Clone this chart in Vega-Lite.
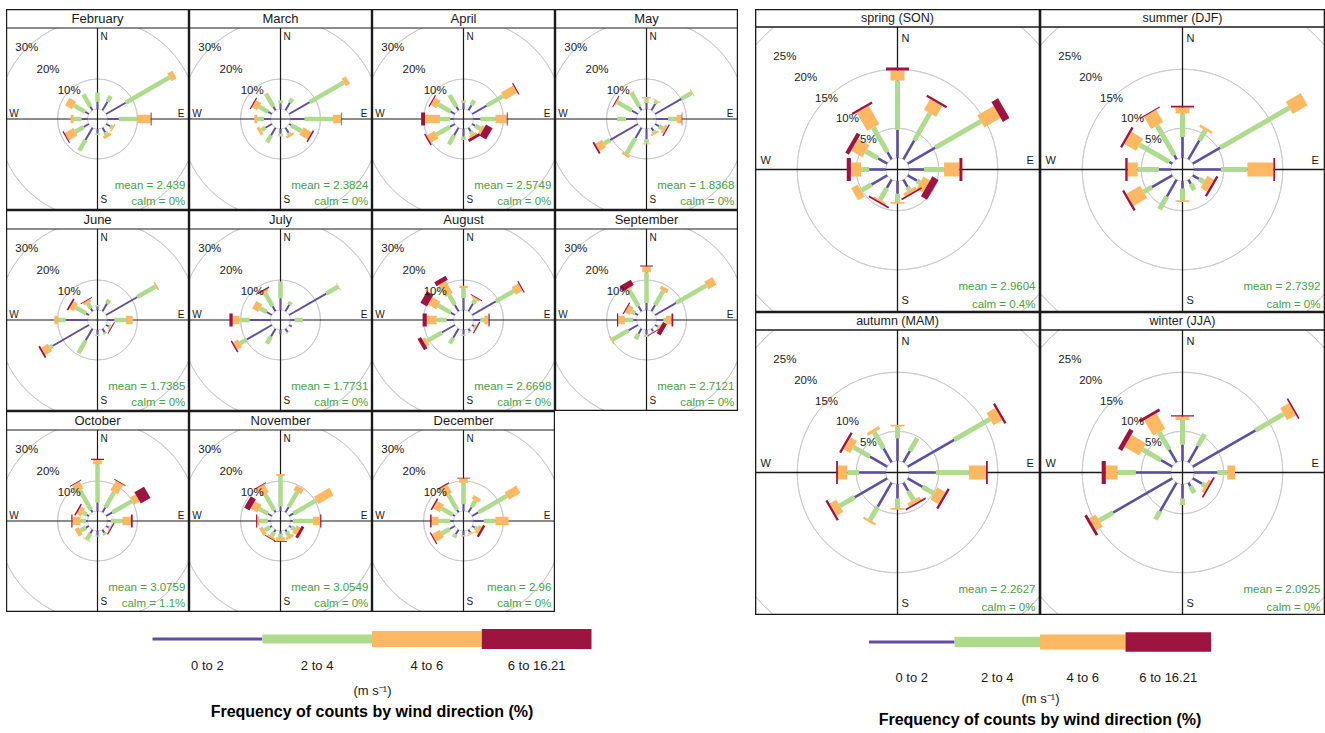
{
"$schema": "https://vega.github.io/schema/vega-lite/v6.json",
"padding": {"left": 5, "top": 8, "right": 0, "bottom": 0},
"background": "white",
"config": {"view": {"stroke": null}, "font": "Liberation Sans", "header": {"labels": false, "title": null, "labelExpr": "''", "labelFontSize": 0, "labelPadding": 0, "labelColor": "transparent", "titleFontSize": 0, "titlePadding": 0}},
"spacing": 17,
"datasets": {
"legend": [{"bin": "0 to 2"}, {"bin": "2 to 4"}, {"bin": "4 to 6"}, {"bin": "6 to 16.21"}],
"monthly": [
{"p":"February","mean":"mean = 2.439","calm":"calm = 0%"},
{"p":"March","mean":"mean = 2.3824","calm":"calm = 0%"},
{"p":"April","mean":"mean = 2.5749","calm":"calm = 0%"},
{"p":"May","mean":"mean = 1.8368","calm":"calm = 0%"},
{"p":"June","mean":"mean = 1.7385","calm":"calm = 0%"},
{"p":"July","mean":"mean = 1.7731","calm":"calm = 0%"},
{"p":"August","mean":"mean = 2.6698","calm":"calm = 0%"},
{"p":"September","mean":"mean = 2.7121","calm":"calm = 0%"},
{"p":"October","mean":"mean = 3.0759","calm":"calm = 1.1%"},
{"p":"November","mean":"mean = 3.0549","calm":"calm = 0%"},
{"p":"December","mean":"mean = 2.96","calm":"calm = 0%"},
{"p":"February","ring":10,"lab":"10%"},{"p":"February","ring":20,"lab":"20%"},{"p":"February","ring":30,"lab":"30%"},{"p":"February","ring":40},
{"p":"March","ring":10,"lab":"10%"},{"p":"March","ring":20,"lab":"20%"},{"p":"March","ring":30,"lab":"30%"},{"p":"March","ring":40},
{"p":"April","ring":10,"lab":"10%"},{"p":"April","ring":20,"lab":"20%"},{"p":"April","ring":30,"lab":"30%"},{"p":"April","ring":40},
{"p":"May","ring":10,"lab":"10%"},{"p":"May","ring":20,"lab":"20%"},{"p":"May","ring":30,"lab":"30%"},{"p":"May","ring":40},
{"p":"June","ring":10,"lab":"10%"},{"p":"June","ring":20,"lab":"20%"},{"p":"June","ring":30,"lab":"30%"},{"p":"June","ring":40},
{"p":"July","ring":10,"lab":"10%"},{"p":"July","ring":20,"lab":"20%"},{"p":"July","ring":30,"lab":"30%"},{"p":"July","ring":40},
{"p":"August","ring":10,"lab":"10%"},{"p":"August","ring":20,"lab":"20%"},{"p":"August","ring":30,"lab":"30%"},{"p":"August","ring":40},
{"p":"September","ring":10,"lab":"10%"},{"p":"September","ring":20,"lab":"20%"},{"p":"September","ring":30,"lab":"30%"},{"p":"September","ring":40},
{"p":"October","ring":10,"lab":"10%"},{"p":"October","ring":20,"lab":"20%"},{"p":"October","ring":30,"lab":"30%"},{"p":"October","ring":40},
{"p":"November","ring":10,"lab":"10%"},{"p":"November","ring":20,"lab":"20%"},{"p":"November","ring":30,"lab":"30%"},{"p":"November","ring":40},
{"p":"December","ring":10,"lab":"10%"},{"p":"December","ring":20,"lab":"20%"},{"p":"December","ring":30,"lab":"30%"},{"p":"December","ring":40},
{"p":"February","d":0,"b1":2.4,"b2":3.1,"b3":0,"b4":0},
{"p":"February","d":30,"b1":3.4,"b2":2.1,"b3":0,"b4":0},
{"p":"February","d":60,"b1":7.5,"b2":16.8,"b3":2.0,"b4":0},
{"p":"February","d":90,"b1":3.8,"b2":6.1,"b3":4.5,"b4":0.3},
{"p":"February","d":120,"b1":1.5,"b2":0.8,"b3":0.5,"b4":0},
{"p":"February","d":150,"b1":1.8,"b2":0.8,"b3":1.0,"b4":0},
{"p":"February","d":180,"b1":1.5,"b2":0.5,"b3":0,"b4":0},
{"p":"February","d":210,"b1":4.8,"b2":4.0,"b3":0,"b4":0},
{"p":"February","d":240,"b1":2.0,"b2":3.2,"b3":3.3,"b4":0.4},
{"p":"February","d":270,"b1":2.0,"b2":2.6,"b3":1.0,"b4":0},
{"p":"February","d":300,"b1":1.4,"b2":4.3,"b3":2.6,"b4":0},
{"p":"February","d":330,"b1":1.5,"b2":4.6,"b3":0,"b4":0},
{"p":"March","d":0,"b1":1.8,"b2":1.1,"b3":0,"b4":0},
{"p":"March","d":30,"b1":3.0,"b2":1.5,"b3":0,"b4":0},
{"p":"March","d":60,"b1":7.9,"b2":13.1,"b3":1.6,"b4":0},
{"p":"March","d":90,"b1":4.7,"b2":9.4,"b3":2.8,"b4":0.2},
{"p":"March","d":120,"b1":0.8,"b2":3.9,"b3":3.2,"b4":0.5},
{"p":"March","d":150,"b1":2.0,"b2":0.6,"b3":0.8,"b4":0},
{"p":"March","d":180,"b1":1.5,"b2":1.0,"b3":0,"b4":0},
{"p":"March","d":210,"b1":3.0,"b2":2.7,"b3":0,"b4":0},
{"p":"March","d":240,"b1":2.5,"b2":1.6,"b3":1.0,"b4":0},
{"p":"March","d":270,"b1":2.2,"b2":2.2,"b3":1.0,"b4":0},
{"p":"March","d":300,"b1":1.4,"b2":3.5,"b3":2.0,"b4":0.4},
{"p":"March","d":330,"b1":1.5,"b2":4.9,"b3":0,"b4":0},
{"p":"April","d":0,"b1":2.0,"b2":0.8,"b3":0,"b4":0},
{"p":"April","d":30,"b1":2.0,"b2":1.8,"b3":0,"b4":0},
{"p":"April","d":60,"b1":5.6,"b2":6.3,"b3":4.7,"b4":0.4},
{"p":"April","d":90,"b1":2.3,"b2":5.0,"b3":3.8,"b4":0.3},
{"p":"April","d":120,"b1":1.2,"b2":2.0,"b3":0.9,"b4":2.5},
{"p":"April","d":150,"b1":1.5,"b2":1.0,"b3":0.8,"b4":1.0},
{"p":"April","d":180,"b1":2.5,"b2":1.2,"b3":0,"b4":0},
{"p":"April","d":210,"b1":3.0,"b2":3.4,"b3":0,"b4":0},
{"p":"April","d":240,"b1":1.9,"b2":5.1,"b3":3.1,"b4":0.5},
{"p":"April","d":270,"b1":1.1,"b2":3.4,"b3":5.0,"b4":1.3},
{"p":"April","d":300,"b1":1.7,"b2":4.6,"b3":2.2,"b4":0.4},
{"p":"April","d":330,"b1":1.5,"b2":4.4,"b3":0,"b4":0},
{"p":"May","d":0,"b1":2.0,"b2":1.5,"b3":0.5,"b4":0},
{"p":"May","d":30,"b1":2.5,"b2":1.0,"b3":0.3,"b4":0},
{"p":"May","d":60,"b1":10.1,"b2":4.0,"b3":0.3,"b4":0},
{"p":"May","d":90,"b1":3.9,"b2":2.8,"b3":1.7,"b4":0.2},
{"p":"May","d":120,"b1":1.5,"b2":1.5,"b3":1.0,"b4":0.4},
{"p":"May","d":150,"b1":1.2,"b2":0.6,"b3":0.7,"b4":0},
{"p":"May","d":180,"b1":3.3,"b2":1.5,"b3":0.3,"b4":0},
{"p":"May","d":210,"b1":4.0,"b2":6.0,"b3":0.9,"b4":0},
{"p":"May","d":240,"b1":10.7,"b2":2.3,"b3":2.6,"b4":0.6},
{"p":"May","d":270,"b1":3.5,"b2":3.0,"b3":0,"b4":0},
{"p":"May","d":300,"b1":2.3,"b2":5.6,"b3":0.4,"b4":0.3},
{"p":"May","d":330,"b1":1.5,"b2":5.2,"b3":0.2,"b4":0},
{"p":"June","d":0,"b1":1.2,"b2":0.5,"b3":0,"b4":0},
{"p":"June","d":30,"b1":3.0,"b2":1.4,"b3":0,"b4":0},
{"p":"June","d":60,"b1":12.0,"b2":7.0,"b3":0.6,"b4":0},
{"p":"June","d":90,"b1":2.3,"b2":3.8,"b3":2.3,"b4":0},
{"p":"June","d":120,"b1":1.0,"b2":0.6,"b3":0.2,"b4":0.3},
{"p":"June","d":150,"b1":1.5,"b2":0.5,"b3":0,"b4":0},
{"p":"June","d":180,"b1":1.5,"b2":0.5,"b3":0,"b4":0},
{"p":"June","d":210,"b1":4.6,"b2":4.8,"b3":0,"b4":0},
{"p":"June","d":240,"b1":14.0,"b2":1.0,"b3":2.6,"b4":0.6},
{"p":"June","d":270,"b1":7.3,"b2":2.5,"b3":1.3,"b4":0},
{"p":"June","d":300,"b1":1.1,"b2":3.9,"b3":1.7,"b4":0.6},
{"p":"June","d":330,"b1":1.1,"b2":2.0,"b3":0.9,"b4":0.3},
{"p":"July","d":0,"b1":3.9,"b2":5.6,"b3":0,"b4":0},
{"p":"July","d":30,"b1":2.5,"b2":1.1,"b3":0,"b4":0},
{"p":"July","d":60,"b1":14.3,"b2":4.5,"b3":0.3,"b4":0},
{"p":"July","d":90,"b1":1.4,"b2":2.7,"b3":0,"b4":0},
{"p":"July","d":120,"b1":1.0,"b2":0,"b3":0,"b4":0},
{"p":"July","d":150,"b1":1.3,"b2":0.3,"b3":0,"b4":0},
{"p":"July","d":180,"b1":1.5,"b2":0,"b3":0,"b4":0},
{"p":"July","d":210,"b1":3.0,"b2":2.8,"b3":0,"b4":0},
{"p":"July","d":240,"b1":9.7,"b2":2.5,"b3":1.9,"b4":0.5},
{"p":"July","d":270,"b1":7.0,"b2":3.4,"b3":2.2,"b4":1.1},
{"p":"July","d":300,"b1":2.0,"b2":2.5,"b3":2.3,"b4":0},
{"p":"July","d":330,"b1":2.0,"b2":5.0,"b3":0.8,"b4":0.5},
{"p":"August","d":0,"b1":4.0,"b2":3.3,"b3":0.8,"b4":0},
{"p":"August","d":30,"b1":3.0,"b2":1.5,"b3":0.6,"b4":0.3},
{"p":"August","d":60,"b1":9.1,"b2":6.9,"b3":2.6,"b4":0.4},
{"p":"August","d":90,"b1":2.3,"b2":1.3,"b3":1.4,"b4":0.4},
{"p":"August","d":120,"b1":0.8,"b2":0.5,"b3":0.2,"b4":0.4},
{"p":"August","d":150,"b1":1.0,"b2":0.3,"b3":0,"b4":0},
{"p":"August","d":180,"b1":1.5,"b2":0.5,"b3":0,"b4":0},
{"p":"August","d":210,"b1":3.5,"b2":2.2,"b3":0,"b4":0},
{"p":"August","d":240,"b1":5.0,"b2":5.6,"b3":1.2,"b4":1.3},
{"p":"August","d":270,"b1":2.3,"b2":3.3,"b3":3.3,"b4":1.4},
{"p":"August","d":300,"b1":1.6,"b2":4.7,"b3":3.2,"b4":2.5},
{"p":"August","d":330,"b1":2.4,"b2":3.9,"b3":4.6,"b4":1.5},
{"p":"September","d":0,"b1":2.3,"b2":10.3,"b3":1.9,"b4":0.3},
{"p":"September","d":30,"b1":2.4,"b2":5.4,"b3":1.3,"b4":0},
{"p":"September","d":60,"b1":8.1,"b2":11.6,"b3":3.1,"b4":0},
{"p":"September","d":90,"b1":2.3,"b2":0.8,"b3":1.9,"b4":0.6},
{"p":"September","d":120,"b1":1.0,"b2":0.5,"b3":0.3,"b4":1.5},
{"p":"September","d":150,"b1":1.0,"b2":0.3,"b3":0,"b4":0.3},
{"p":"September","d":180,"b1":1.5,"b2":0.8,"b3":0,"b4":0},
{"p":"September","d":210,"b1":2.0,"b2":2.0,"b3":0,"b4":0},
{"p":"September","d":240,"b1":3.6,"b2":6.3,"b3":0.4,"b4":0},
{"p":"September","d":270,"b1":1.1,"b2":2.8,"b3":2.2,"b4":0.4},
{"p":"September","d":300,"b1":1.1,"b2":1.3,"b3":1.8,"b4":0.4},
{"p":"September","d":330,"b1":2.0,"b2":6.4,"b3":0.5,"b4":2.0},
{"p":"October","d":0,"b1":2.8,"b2":12.8,"b3":1.4,"b4":0.4},
{"p":"October","d":30,"b1":1.9,"b2":5.8,"b3":3.7,"b4":0.3},
{"p":"October","d":60,"b1":2.4,"b2":7.7,"b3":2.0,"b4":3.7},
{"p":"October","d":90,"b1":1.1,"b2":3.9,"b3":2.8,"b4":0.6},
{"p":"October","d":120,"b1":1.0,"b2":0.3,"b3":0.3,"b4":0.4},
{"p":"October","d":150,"b1":1.2,"b2":0.8,"b3":0,"b4":0},
{"p":"October","d":180,"b1":1.5,"b2":0.3,"b3":0,"b4":0},
{"p":"October","d":210,"b1":1.5,"b2":2.2,"b3":0.3,"b4":0},
{"p":"October","d":240,"b1":1.2,"b2":2.0,"b3":1.5,"b4":0},
{"p":"October","d":270,"b1":0.5,"b2":1.8,"b3":2.7,"b4":0.4},
{"p":"October","d":300,"b1":0.8,"b2":1.5,"b3":1.6,"b4":0.5},
{"p":"October","d":330,"b1":1.0,"b2":7.4,"b3":2.7,"b4":0.3},
{"p":"November","d":0,"b1":1.5,"b2":10.2,"b3":0.6,"b4":0},
{"p":"November","d":30,"b1":2.1,"b2":5.7,"b3":1.9,"b4":0},
{"p":"November","d":60,"b1":1.7,"b2":8.7,"b3":5.9,"b4":0},
{"p":"November","d":90,"b1":0.8,"b2":6.7,"b3":2.4,"b4":0.4},
{"p":"November","d":120,"b1":0.8,"b2":1.3,"b3":1.5,"b4":1.0},
{"p":"November","d":150,"b1":0.8,"b2":1.5,"b3":1.0,"b4":0},
{"p":"November","d":180,"b1":0.9,"b2":1.2,"b3":1.2,"b4":0.3},
{"p":"November","d":210,"b1":1.0,"b2":1.5,"b3":0.7,"b4":0.3},
{"p":"November","d":240,"b1":0.8,"b2":2.0,"b3":1.3,"b4":0},
{"p":"November","d":270,"b1":0.9,"b2":2.8,"b3":0.7,"b4":0.4},
{"p":"November","d":300,"b1":1.5,"b2":3.3,"b3":2.6,"b4":2.0},
{"p":"November","d":330,"b1":0.8,"b2":6.2,"b3":3.0,"b4":0.3},
{"p":"December","d":0,"b1":2.3,"b2":7.0,"b3":1.5,"b4":0.3},
{"p":"December","d":30,"b1":2.0,"b2":2.5,"b3":1.4,"b4":0},
{"p":"December","d":60,"b1":2.4,"b2":10.9,"b3":4.5,"b4":0},
{"p":"December","d":90,"b1":3.4,"b2":3.9,"b3":4.4,"b4":0},
{"p":"December","d":120,"b1":1.0,"b2":0.8,"b3":1.2,"b4":0.8},
{"p":"December","d":150,"b1":1.0,"b2":0.5,"b3":0.3,"b4":0},
{"p":"December","d":180,"b1":1.3,"b2":0.5,"b3":0,"b4":0},
{"p":"December","d":210,"b1":1.8,"b2":1.2,"b3":0,"b4":0},
{"p":"December","d":240,"b1":2.0,"b2":3.0,"b3":3.0,"b4":0.4},
{"p":"December","d":270,"b1":1.1,"b2":3.9,"b3":2.3,"b4":0.5},
{"p":"December","d":300,"b1":0.8,"b2":4.2,"b3":2.6,"b4":0.5},
{"p":"December","d":330,"b1":1.0,"b2":5.8,"b3":3.1,"b4":0.4}
],
"seasonal": [
{"p":"spring (SON)","mean":"mean = 2.9604","calm":"calm = 0.4%"},
{"p":"summer (DJF)","mean":"mean = 2.7392","calm":"calm = 0%"},
{"p":"autumn (MAM)","mean":"mean = 2.2627","calm":"calm = 0%"},
{"p":"winter (JJA)","mean":"mean = 2.0925","calm":"calm = 0%"},
{"p":"spring (SON)","ring":5,"lab":"5%"},{"p":"spring (SON)","ring":10,"lab":"10%"},{"p":"spring (SON)","ring":15,"lab":"15%"},{"p":"spring (SON)","ring":20,"lab":"20%"},{"p":"spring (SON)","ring":25,"lab":"25%"},{"p":"spring (SON)","ring":30},{"p":"spring (SON)","ring":35},
{"p":"summer (DJF)","ring":5,"lab":"5%"},{"p":"summer (DJF)","ring":10,"lab":"10%"},{"p":"summer (DJF)","ring":15,"lab":"15%"},{"p":"summer (DJF)","ring":20,"lab":"20%"},{"p":"summer (DJF)","ring":25,"lab":"25%"},{"p":"summer (DJF)","ring":30},{"p":"summer (DJF)","ring":35},
{"p":"autumn (MAM)","ring":5,"lab":"5%"},{"p":"autumn (MAM)","ring":10,"lab":"10%"},{"p":"autumn (MAM)","ring":15,"lab":"15%"},{"p":"autumn (MAM)","ring":20,"lab":"20%"},{"p":"autumn (MAM)","ring":25,"lab":"25%"},{"p":"autumn (MAM)","ring":30},{"p":"autumn (MAM)","ring":35},
{"p":"winter (JJA)","ring":5,"lab":"5%"},{"p":"winter (JJA)","ring":10,"lab":"10%"},{"p":"winter (JJA)","ring":15,"lab":"15%"},{"p":"winter (JJA)","ring":20,"lab":"20%"},{"p":"winter (JJA)","ring":25,"lab":"25%"},{"p":"winter (JJA)","ring":30},{"p":"winter (JJA)","ring":35},
{"p":"spring (SON)","d":0,"b1":4.7,"b2":8.4,"b3":1.7,"b4":0.5},
{"p":"spring (SON)","d":30,"b1":3.7,"b2":5.3,"b3":2.1,"b4":0.4},
{"p":"spring (SON)","d":60,"b1":5.4,"b2":8.9,"b3":3.2,"b4":1.3},
{"p":"spring (SON)","d":90,"b1":2.5,"b2":3.4,"b3":2.6,"b4":0.5},
{"p":"spring (SON)","d":120,"b1":1.8,"b2":0.6,"b3":1.3,"b4":1.2},
{"p":"spring (SON)","d":150,"b1":1.4,"b2":0.6,"b3":0.6,"b4":0.3},
{"p":"spring (SON)","d":180,"b1":2.1,"b2":1.4,"b3":0.3,"b4":0},
{"p":"spring (SON)","d":210,"b1":1.6,"b2":2.3,"b3":0.3,"b4":0.3},
{"p":"spring (SON)","d":240,"b1":3.1,"b2":2.0,"b3":1.3,"b4":0},
{"p":"spring (SON)","d":270,"b1":2.8,"b2":1.4,"b3":1.7,"b4":0.7},
{"p":"spring (SON)","d":300,"b1":1.8,"b2":2.4,"b3":2.2,"b4":0.7},
{"p":"spring (SON)","d":330,"b1":1.4,"b2":4.8,"b3":3.6,"b4":0.4},
{"p":"summer (DJF)","d":0,"b1":3.5,"b2":4.0,"b3":1.0,"b4":0.3},
{"p":"summer (DJF)","d":30,"b1":3.7,"b2":2.0,"b3":0.4,"b4":0},
{"p":"summer (DJF)","d":60,"b1":5.4,"b2":13.5,"b3":2.9,"b4":0},
{"p":"summer (DJF)","d":90,"b1":4.5,"b2":4.5,"b3":4.4,"b4":0.3},
{"p":"summer (DJF)","d":120,"b1":1.2,"b2":1.0,"b3":1.3,"b4":0.4},
{"p":"summer (DJF)","d":150,"b1":0.8,"b2":1.2,"b3":0,"b4":0},
{"p":"summer (DJF)","d":180,"b1":1.2,"b2":2.0,"b3":0.3,"b4":0},
{"p":"summer (DJF)","d":210,"b1":3.3,"b2":2.5,"b3":0,"b4":0},
{"p":"summer (DJF)","d":240,"b1":4.0,"b2":1.6,"b3":2.7,"b4":0.4},
{"p":"summer (DJF)","d":270,"b1":2.0,"b2":3.6,"b3":1.7,"b4":0.4},
{"p":"summer (DJF)","d":300,"b1":0.6,"b2":5.8,"b3":2.3,"b4":0.4},
{"p":"summer (DJF)","d":330,"b1":0.8,"b2":5.8,"b3":2.4,"b4":0.2},
{"p":"autumn (MAM)","d":0,"b1":3.8,"b2":2.0,"b3":0.3,"b4":0},
{"p":"autumn (MAM)","d":30,"b1":2.2,"b2":2.5,"b3":0,"b4":0},
{"p":"autumn (MAM)","d":60,"b1":9.1,"b2":7.0,"b3":1.7,"b4":0.4},
{"p":"autumn (MAM)","d":90,"b1":4.5,"b2":5.6,"b3":2.9,"b4":0.3},
{"p":"autumn (MAM)","d":120,"b1":2.9,"b2":2.2,"b3":1.6,"b4":0.4},
{"p":"autumn (MAM)","d":150,"b1":1.6,"b2":1.8,"b3":0.6,"b4":0.3},
{"p":"autumn (MAM)","d":180,"b1":2.4,"b2":1.6,"b3":0.3,"b4":0},
{"p":"autumn (MAM)","d":210,"b1":4.7,"b2":2.6,"b3":0.4,"b4":0},
{"p":"autumn (MAM)","d":240,"b1":6.4,"b2":2.9,"b3":1.3,"b4":0.4},
{"p":"autumn (MAM)","d":270,"b1":4.5,"b2":2.0,"b3":1.6,"b4":0.3},
{"p":"autumn (MAM)","d":300,"b1":3.4,"b2":3.2,"b3":1.3,"b4":0.4},
{"p":"autumn (MAM)","d":330,"b1":2.7,"b2":3.2,"b3":0.5,"b4":0},
{"p":"winter (JJA)","d":0,"b1":2.7,"b2":4.2,"b3":0.6,"b4":0.2},
{"p":"winter (JJA)","d":30,"b1":3.2,"b2":2.3,"b3":0,"b4":0},
{"p":"winter (JJA)","d":60,"b1":12.3,"b2":5.5,"b3":1.7,"b4":0.3},
{"p":"winter (JJA)","d":90,"b1":3.9,"b2":1.7,"b3":1.3,"b4":0},
{"p":"winter (JJA)","d":120,"b1":1.8,"b2":0.6,"b3":0.5,"b4":0.3},
{"p":"winter (JJA)","d":150,"b1":0.7,"b2":1.3,"b3":0,"b4":0},
{"p":"winter (JJA)","d":180,"b1":2.4,"b2":1.1,"b3":0,"b4":0},
{"p":"winter (JJA)","d":210,"b1":5.6,"b2":1.6,"b3":0,"b4":0},
{"p":"winter (JJA)","d":240,"b1":11.6,"b2":2.7,"b3":1.3,"b4":0.5},
{"p":"winter (JJA)","d":270,"b1":5.9,"b2":3.1,"b3":2.0,"b4":0.7},
{"p":"winter (JJA)","d":300,"b1":2.2,"b2":3.6,"b3":2.9,"b4":0.8},
{"p":"winter (JJA)","d":330,"b1":2.5,"b2":3.4,"b3":3.0,"b4":0.5}
]
},
"hconcat": [
{
"vconcat": [
{
"data": {"name": "monthly"},
"facet": {"field": "p", "type": "nominal", "title": null, "header": {"labels": false, "title": null, "labelExpr": "''", "labelFontSize": 0, "labelPadding": 0}, "sort": ["February","March","April","May","June","July","August","September","October","November","December"]},
"columns": 4,
"spacing": -1,
"spec": {
"width": 183, "height": 201,
"layer": [
{"transform": [{"filter": "isValid(datum.ring)"}],
 "mark": {"type": "arc", "fill": "transparent", "stroke": "#c9c9c9", "strokeWidth": 0.9, "theta": 0, "theta2": 6.2832, "clip": true},
 "encoding": {
  "x": {"datum": 0, "scale": {"domain": [-91.5, 91.5], "nice": false, "zero": false}, "axis": null},
  "y": {"datum": 0, "scale": {"domain": [-91, 110], "nice": false, "zero": false}, "axis": null},
  "radius": {"field": "ring", "type": "quantitative", "scale": {"type": "linear", "domain": [-3.333, 30], "range": [0, 100], "zero": false, "nice": false}}
 }},
{"transform": [{"filter": "isValid(datum.mean)"}], "mark": {"type": "rule", "color": "#1a1a1a", "strokeWidth": 1.2},
 "encoding": {"x": {"datum": 0}, "y": {"datum": -90.4}, "y2": {"datum": 91}}},
{"transform": [{"filter": "isValid(datum.mean)"}], "mark": {"type": "rule", "color": "#1a1a1a", "strokeWidth": 1.2},
 "encoding": {"x": {"datum": -90.9}, "x2": {"datum": 90.9}, "y": {"datum": 0}}},
{"transform": [{"filter": "isValid(datum.d)"}, {"fold": ["b1", "b2", "b3", "b4"], "as": ["bin", "f"]}, {"stack": "f", "groupby": ["p", "d"], "sort": [{"field": "bin", "order": "ascending"}], "as": ["r0", "r1"]}, {"filter": "datum.f > 0"}],
 "encoding": {
  "x": {"datum": 0}, "y": {"datum": 0},
  "theta": {"field": "d", "type": "quantitative", "stack": null, "scale": {"type": "linear", "domain": [0, 360], "range": [0, 6.283185307179586], "zero": false, "nice": false}},
  "theta2": {"field": "d"},
  "radius": {"field": "r0", "type": "quantitative", "stack": null},
  "radius2": {"field": "r1"}
 },
 "layer": [
  {"transform": [{"filter": {"field": "bin", "equal": "b1"}}], "mark": {"type": "arc", "fill": "transparent", "stroke": "#5E4FA2", "strokeWidth": 2, "strokeCap": "butt", "strokeJoin": "bevel"}},
  {"transform": [{"filter": {"field": "bin", "equal": "b2"}}], "mark": {"type": "arc", "fill": "transparent", "stroke": "#AFDB8E", "strokeWidth": 4.5, "strokeCap": "butt", "strokeJoin": "bevel"}},
  {"transform": [{"filter": {"field": "bin", "equal": "b3"}}], "mark": {"type": "arc", "fill": "transparent", "stroke": "#FDB863", "strokeWidth": 8.5, "strokeCap": "butt", "strokeJoin": "bevel"}},
  {"transform": [{"filter": {"field": "bin", "equal": "b4"}}], "mark": {"type": "arc", "fill": "transparent", "stroke": "#9E1440", "strokeWidth": 13, "strokeCap": "butt", "strokeJoin": "bevel"}}
 ]},
{"transform": [{"filter": "isValid(datum.lab)"}],
 "mark": {"type": "text", "fontSize": 11.5, "color": "#1a1a1a", "align": "center", "baseline": "middle"},
 "encoding": {"x": {"datum": 0}, "y": {"datum": 0}, "theta": {"datum": 315}, "radius": {"field": "ring", "type": "quantitative"}, "text": {"field": "lab"}}},
{"transform": [{"filter": "isValid(datum.mean)"}], "mark": {"type": "text", "text": "N", "align": "left", "baseline": "alphabetic", "fontSize": 10, "color": "#1a1a1a"},
 "encoding": {"x": {"datum": 3}, "y": {"datum": 79}}},
{"transform": [{"filter": "isValid(datum.mean)"}], "mark": {"type": "text", "text": "S", "align": "left", "baseline": "alphabetic", "fontSize": 10, "color": "#1a1a1a"},
 "encoding": {"x": {"datum": 3}, "y": {"datum": -84.4}}},
{"transform": [{"filter": "isValid(datum.mean)"}], "mark": {"type": "text", "text": "W", "align": "left", "baseline": "alphabetic", "fontSize": 10, "color": "#1a1a1a"},
 "encoding": {"x": {"datum": -88.2}, "y": {"datum": 1.6}}},
{"transform": [{"filter": "isValid(datum.mean)"}], "mark": {"type": "text", "text": "E", "align": "right", "baseline": "alphabetic", "fontSize": 10, "color": "#1a1a1a"},
 "encoding": {"x": {"datum": 86.8}, "y": {"datum": 1.6}}},
{"transform": [{"filter": "isValid(datum.mean)"}], "mark": {"type": "rect", "fill": "white"},
 "encoding": {"x": {"datum": -91}, "x2": {"datum": 91}, "y": {"datum": 91}, "y2": {"datum": 109.4}}},
{"transform": [{"filter": "isValid(datum.mean)"}], "mark": {"type": "rule", "color": "#1a1a1a", "strokeWidth": 1.2},
 "encoding": {"x": {"datum": -90.9}, "x2": {"datum": 90.9}, "y": {"datum": 91}}},
{"transform": [{"filter": "isValid(datum.mean)"}], "mark": {"type": "text", "fontSize": 13, "baseline": "middle", "color": "#1a1a1a"},
 "encoding": {"x": {"datum": 0}, "y": {"datum": 100}, "text": {"field": "p"}}},
{"transform": [{"filter": "isValid(datum.mean)"}], "mark": {"type": "text", "fontSize": 11.5, "align": "right", "baseline": "alphabetic", "color": "#47a047"},
 "encoding": {"x": {"datum": 87.8}, "y": {"datum": -70.4}, "text": {"field": "mean"}}},
{"transform": [{"filter": "isValid(datum.mean)"}], "mark": {"type": "text", "fontSize": 11.5, "align": "right", "baseline": "alphabetic", "color": "#47a047"},
 "encoding": {"x": {"datum": 87.8}, "y": {"datum": -85.7}, "text": {"field": "calm"}}},
{"transform": [{"filter": "isValid(datum.mean)"}], "mark": {"type": "rect", "fill": "transparent", "stroke": "#1a1a1a", "strokeWidth": 1.2},
 "encoding": {"x": {"datum": -90.9}, "x2": {"datum": 90.9}, "y": {"datum": -90.4}, "y2": {"datum": 109.4}}}
]
}
},
{
"data": {"name": "legend"},
"width": 439, "height": 22,
"title": {"text": "Frequency of counts by wind direction (%)", "orient": "bottom", "fontSize": 16, "fontWeight": "bold", "offset": 7, "color": "#000"},
"encoding": {"x": {"field": "bin", "type": "nominal", "scale": {"domain": ["0 to 2", "2 to 4", "4 to 6", "6 to 16.21"], "paddingInner": 0, "paddingOuter": 0},
  "axis": {"orient": "bottom", "domain": false, "ticks": false, "labelPadding": 9, "labelFontSize": 13, "labelColor": "#1a1a1a", "labelAngle": 0, "title": "(m s⁻¹)", "titleFontSize": 13, "titleFontWeight": "normal", "titlePadding": 12, "titleColor": "#1a1a1a"}}},
"layer": [
 {"transform": [{"filter": {"field": "bin", "equal": "0 to 2"}}], "mark": {"type": "bar", "color": "#5E4FA2"}, "encoding": {"y": {"datum": -1.5, "scale": {"domain": [-11, 11], "nice": false}, "axis": null}, "y2": {"datum": 1.5}}},
 {"transform": [{"filter": {"field": "bin", "equal": "2 to 4"}}], "mark": {"type": "bar", "color": "#AFDB8E"}, "encoding": {"y": {"datum": -4.5}, "y2": {"datum": 4.5}}},
 {"transform": [{"filter": {"field": "bin", "equal": "4 to 6"}}], "mark": {"type": "bar", "color": "#FDB863"}, "encoding": {"y": {"datum": -8}, "y2": {"datum": 8}}},
 {"transform": [{"filter": {"field": "bin", "equal": "6 to 16.21"}}], "mark": {"type": "bar", "color": "#9E1440"}, "encoding": {"y": {"datum": -10}, "y2": {"datum": 10}}}
]
}
],
"spacing": 16,
"center": true
},
{
"vconcat": [
{
"data": {"name": "seasonal"},
"facet": {"field": "p", "type": "nominal", "title": null, "header": {"labels": false, "title": null, "labelExpr": "''", "labelFontSize": 0, "labelPadding": 0}, "sort": ["spring (SON)", "summer (DJF)", "autumn (MAM)", "winter (JJA)"]},
"columns": 2,
"spacing": -1,
"spec": {
"width": 285, "height": 303,
"layer": [
{"transform": [{"filter": "isValid(datum.ring)"}],
 "mark": {"type": "arc", "fill": "transparent", "stroke": "#c9c9c9", "strokeWidth": 0.9, "theta": 0, "theta2": 6.2832, "clip": true},
 "encoding": {
  "x": {"datum": 0, "scale": {"domain": [-142.5, 142.5], "nice": false, "zero": false}, "axis": null},
  "y": {"datum": 0, "scale": {"domain": [-142.5, 160.5], "nice": false, "zero": false}, "axis": null},
  "radius": {"field": "ring", "type": "quantitative", "scale": {"type": "linear", "domain": [-2, 25], "range": [0, 159.3], "zero": false, "nice": false}}
 }},
{"transform": [{"filter": "isValid(datum.mean)"}], "mark": {"type": "rule", "color": "#1a1a1a", "strokeWidth": 1.3},
 "encoding": {"x": {"datum": 0}, "y": {"datum": -141.85}, "y2": {"datum": 142.5}}},
{"transform": [{"filter": "isValid(datum.mean)"}], "mark": {"type": "rule", "color": "#1a1a1a", "strokeWidth": 1.3},
 "encoding": {"x": {"datum": -141.85}, "x2": {"datum": 141.85}, "y": {"datum": 0}}},
{"transform": [{"filter": "isValid(datum.d)"}, {"fold": ["b1", "b2", "b3", "b4"], "as": ["bin", "f"]}, {"stack": "f", "groupby": ["p", "d"], "sort": [{"field": "bin", "order": "ascending"}], "as": ["r0", "r1"]}, {"filter": "datum.f > 0"}],
 "encoding": {
  "x": {"datum": 0}, "y": {"datum": 0},
  "theta": {"field": "d", "type": "quantitative", "stack": null, "scale": {"type": "linear", "domain": [0, 360], "range": [0, 6.283185307179586], "zero": false, "nice": false}},
  "theta2": {"field": "d"},
  "radius": {"field": "r0", "type": "quantitative", "stack": null},
  "radius2": {"field": "r1"}
 },
 "layer": [
  {"transform": [{"filter": {"field": "bin", "equal": "b1"}}], "mark": {"type": "arc", "fill": "transparent", "stroke": "#5E4FA2", "strokeWidth": 2.6, "strokeCap": "butt", "strokeJoin": "bevel"}},
  {"transform": [{"filter": {"field": "bin", "equal": "b2"}}], "mark": {"type": "arc", "fill": "transparent", "stroke": "#AFDB8E", "strokeWidth": 5, "strokeCap": "butt", "strokeJoin": "bevel"}},
  {"transform": [{"filter": {"field": "bin", "equal": "b3"}}], "mark": {"type": "arc", "fill": "transparent", "stroke": "#FDB863", "strokeWidth": 14, "strokeCap": "butt", "strokeJoin": "bevel"}},
  {"transform": [{"filter": {"field": "bin", "equal": "b4"}}], "mark": {"type": "arc", "fill": "transparent", "stroke": "#9E1440", "strokeWidth": 23, "strokeCap": "butt", "strokeJoin": "bevel"}}
 ]},
{"transform": [{"filter": "isValid(datum.lab)"}],
 "mark": {"type": "text", "fontSize": 11.5, "color": "#1a1a1a", "align": "center", "baseline": "middle"},
 "encoding": {"x": {"datum": 0}, "y": {"datum": 0}, "theta": {"datum": 315}, "radius": {"field": "ring", "type": "quantitative"}, "text": {"field": "lab"}}},
{"transform": [{"filter": "isValid(datum.mean)"}], "mark": {"type": "text", "text": "N", "align": "left", "baseline": "alphabetic", "fontSize": 11, "color": "#1a1a1a"},
 "encoding": {"x": {"datum": 4}, "y": {"datum": 128}}},
{"transform": [{"filter": "isValid(datum.mean)"}], "mark": {"type": "text", "text": "S", "align": "left", "baseline": "alphabetic", "fontSize": 11, "color": "#1a1a1a"},
 "encoding": {"x": {"datum": 4}, "y": {"datum": -134.5}}},
{"transform": [{"filter": "isValid(datum.mean)"}], "mark": {"type": "text", "text": "W", "align": "left", "baseline": "alphabetic", "fontSize": 11, "color": "#1a1a1a"},
 "encoding": {"x": {"datum": -137}, "y": {"datum": 5.5}}},
{"transform": [{"filter": "isValid(datum.mean)"}], "mark": {"type": "text", "text": "E", "align": "right", "baseline": "alphabetic", "fontSize": 11, "color": "#1a1a1a"},
 "encoding": {"x": {"datum": 136.3}, "y": {"datum": 5.5}}},
{"transform": [{"filter": "isValid(datum.mean)"}], "mark": {"type": "rect", "fill": "white"},
 "encoding": {"x": {"datum": -142}, "x2": {"datum": 142}, "y": {"datum": 142.5}, "y2": {"datum": 160}}},
{"transform": [{"filter": "isValid(datum.mean)"}], "mark": {"type": "rule", "color": "#1a1a1a", "strokeWidth": 1.3},
 "encoding": {"x": {"datum": -141.85}, "x2": {"datum": 141.85}, "y": {"datum": 142.5}}},
{"transform": [{"filter": "isValid(datum.mean)"}], "mark": {"type": "text", "fontSize": 12.5, "baseline": "middle", "color": "#1a1a1a"},
 "encoding": {"x": {"datum": 0}, "y": {"datum": 151.5}, "text": {"field": "p"}}},
{"transform": [{"filter": "isValid(datum.mean)"}], "mark": {"type": "text", "fontSize": 11.5, "align": "right", "baseline": "alphabetic", "color": "#47a047"},
 "encoding": {"x": {"datum": 138}, "y": {"datum": -120.5}, "text": {"field": "mean"}}},
{"transform": [{"filter": "isValid(datum.mean)"}], "mark": {"type": "text", "fontSize": 11.5, "align": "right", "baseline": "alphabetic", "color": "#47a047"},
 "encoding": {"x": {"datum": 138}, "y": {"datum": -138}, "text": {"field": "calm"}}},
{"transform": [{"filter": "isValid(datum.mean)"}], "mark": {"type": "rect", "fill": "transparent", "stroke": "#1a1a1a", "strokeWidth": 1.3},
 "encoding": {"x": {"datum": -141.85}, "x2": {"datum": 141.85}, "y": {"datum": -141.85}, "y2": {"datum": 159.85}}}
]
}
},
{
"data": {"name": "legend"},
"width": 342, "height": 22,
"title": {"text": "Frequency of counts by wind direction (%)", "orient": "bottom", "fontSize": 16, "fontWeight": "bold", "offset": 7, "color": "#000"},
"encoding": {"x": {"field": "bin", "type": "nominal", "scale": {"domain": ["0 to 2", "2 to 4", "4 to 6", "6 to 16.21"], "paddingInner": 0, "paddingOuter": 0},
  "axis": {"orient": "bottom", "domain": false, "ticks": false, "labelPadding": 18, "labelFontSize": 13, "labelColor": "#1a1a1a", "labelAngle": 0, "title": "(m s⁻¹)", "titleFontSize": 13, "titleFontWeight": "normal", "titlePadding": 8, "titleColor": "#1a1a1a"}}},
"layer": [
 {"transform": [{"filter": {"field": "bin", "equal": "0 to 2"}}], "mark": {"type": "bar", "color": "#5E4FA2"}, "encoding": {"y": {"datum": -1.5, "scale": {"domain": [-11, 11], "nice": false}, "axis": null}, "y2": {"datum": 1.5}}},
 {"transform": [{"filter": {"field": "bin", "equal": "2 to 4"}}], "mark": {"type": "bar", "color": "#AFDB8E"}, "encoding": {"y": {"datum": -5.25}, "y2": {"datum": 5.25}}},
 {"transform": [{"filter": {"field": "bin", "equal": "4 to 6"}}], "mark": {"type": "bar", "color": "#FDB863"}, "encoding": {"y": {"datum": -7.5}, "y2": {"datum": 7.5}}},
 {"transform": [{"filter": {"field": "bin", "equal": "6 to 16.21"}}], "mark": {"type": "bar", "color": "#9E1440"}, "encoding": {"y": {"datum": -9.75}, "y2": {"datum": 9.75}}}
]
}
],
"spacing": 16,
"center": true
}
]
}
